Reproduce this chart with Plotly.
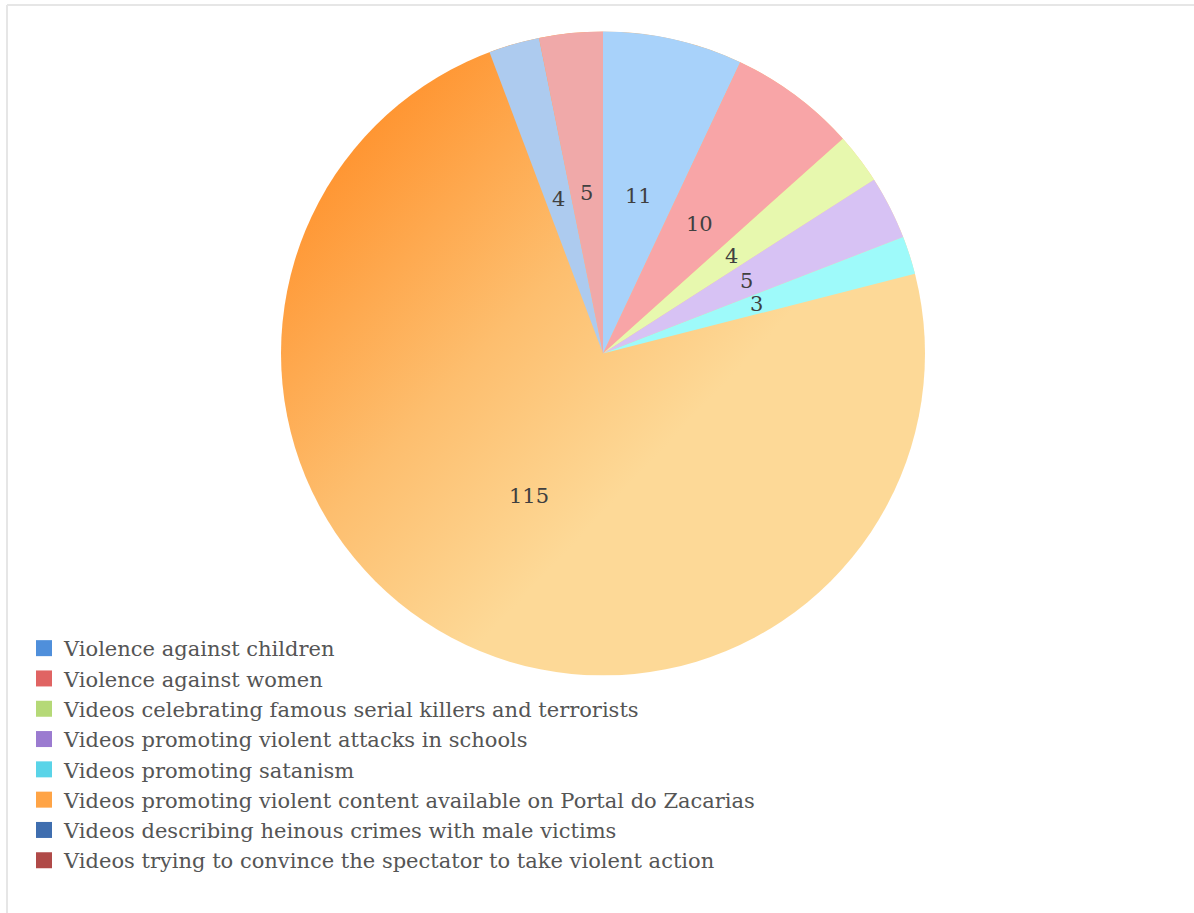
import base64
import numpy as np
import plotly.graph_objects as go

# Categories and counts of videos per category
categories = [
    "Violence against children",
    "Violence against women",
    "Videos celebrating famous serial killers and terrorists",
    "Videos promoting violent attacks in schools",
    "Videos promoting satanism",
    "Videos promoting violent content available on Portal do Zacarias",
    "Videos describing heinous crimes with male victims",
    "Videos trying to convince the spectator to take violent action",
]
counts = [11, 10, 4, 5, 3, 115, 4, 5]

# Slice fills (light) and legend swatch colours (saturated)
slice_colors = [
    "#A8D2FA", "#F8A5A7", "#E7F8AE", "#D7C2F4",
    "#9EFAFA", "rgba(0,0,0,0)", "#ADCBEF", "#F0A9A9",
]
legend_colors = [
    "#4F8FDB", "#E06463", "#B5D977", "#9B7BD0",
    "#5AD4E8", "#FFA446", "#3F6EAF", "#B04A48",
]

W, H = 1194, 913
CX, CY, R = 603, 353.5, 322  # pie centre / radius in pixels (y from top)

dom_x = [(CX - R) / W, (CX + R) / W]
dom_y = [1 - (CY + R) / H, 1 - (CY - R) / H]

fig = go.Figure()

fig.add_trace(go.Pie(
    labels=categories,
    values=counts,
    sort=False,
    direction="clockwise",
    rotation=0,
    marker=dict(colors=slice_colors, line=dict(width=0)),
    textinfo="none",
    showlegend=False,
    domain=dict(x=dom_x, y=dom_y),
    hoverinfo="label+value",
))

# Legend entries with square swatches
for name, col in zip(categories, legend_colors):
    fig.add_trace(go.Scatter(
        x=[None], y=[None], mode="markers", name=name,
        marker=dict(symbol="square", size=17, color=col),
        showlegend=True,
    ))

# Value labels placed at half radius, at the middle angle of each slice
total = float(sum(counts))
cum = np.cumsum([0] + counts[:-1])
for v, c0 in zip(counts, cum):
    theta = (c0 + v / 2.0) / total * 2 * np.pi
    px = CX + 0.5 * R * np.sin(theta)
    py = CY - 0.5 * R * np.cos(theta)
    fig.add_annotation(
        x=px / W, y=1 - py / H, xref="paper", yref="paper",
        text=str(v), showarrow=False,
        font=dict(family="DejaVu Serif", size=21, color="#404040"),
        xanchor="center", yanchor="middle",
    )

# Shaded orange disc behind the pie (shows through the large slice)
D = 2 * R
svg = (
    f"<svg xmlns='http://www.w3.org/2000/svg' width='{D}' height='{D}' viewBox='0 0 {D} {D}'>"
    "<defs><linearGradient id='g' x1='0.12' y1='0.15' x2='0.62' y2='0.62'>"
    "<stop offset='0' stop-color='#FF9430'/>"
    "<stop offset='0.55' stop-color='#FDBE6E'/>"
    "<stop offset='1' stop-color='#FDD997'/>"
    "</linearGradient></defs>"
    f"<circle cx='{R}' cy='{R}' r='{R}' fill='url(#g)'/></svg>"
)
src = "data:image/svg+xml;base64," + base64.b64encode(svg.encode()).decode()
fig.add_layout_image(
    source=src, xref="paper", yref="paper",
    x=dom_x[0], y=dom_y[1], sizex=dom_x[1] - dom_x[0], sizey=dom_y[1] - dom_y[0],
    xanchor="left", yanchor="top", sizing="stretch", layer="below",
)

# Light frame along the top and left edges
fig.add_shape(type="line", xref="paper", yref="paper",
              x0=7 / W, x1=1, y0=1 - 5 / H, y1=1 - 5 / H,
              line=dict(color="#E6E6E6", width=2))
fig.add_shape(type="line", xref="paper", yref="paper",
              x0=7 / W, x1=7 / W, y0=0, y1=1 - 5 / H,
              line=dict(color="#E6E6E6", width=2))

fig.update_layout(
    width=W, height=H,
    margin=dict(l=0, r=0, t=0, b=0),
    paper_bgcolor="white",
    plot_bgcolor="rgba(0,0,0,0)",
    xaxis=dict(visible=False),
    yaxis=dict(visible=False),
    showlegend=True,
    legend=dict(
        x=24 / W, y=1 - 628 / H, xanchor="left", yanchor="top",
        font=dict(family="DejaVu Serif", size=21, color="#555555"),
        bgcolor="rgba(0,0,0,0)", itemsizing="trace", tracegroupgap=0,
    ),
)

fig.write_html("out.html")
